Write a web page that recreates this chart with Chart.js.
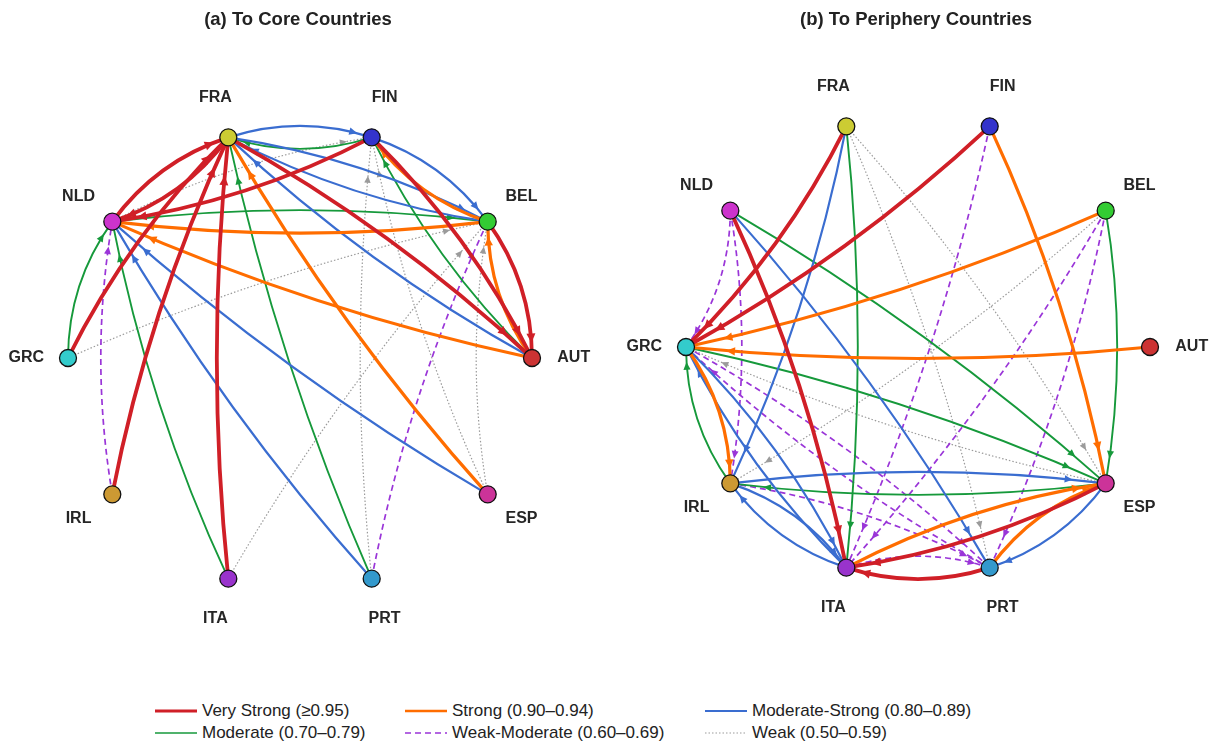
<!DOCTYPE html>
<html>
<head>
<meta charset="utf-8">
<script src="https://cdn.jsdelivr.net/npm/chart.js@4.4.0/dist/chart.umd.min.js"></script>
<style>
  html, body { margin: 0; padding: 0; background: #fff; }
  #wrap { position: relative; width: 1218px; height: 747px; overflow: hidden;
          font-family: "Liberation Sans", Arial, sans-serif; }
  #wrap canvas { position: absolute; top: 0; }
  .item { position: absolute; display: flex; align-items: center; height: 20px;
          font-size: 17px; color: #222; white-space: nowrap; }
  .item svg { margin-right: 5px; }
</style>
</head>
<body>
<div id="wrap">
  <canvas id="core" width="609" height="690" style="left:0"></canvas>
  <canvas id="peri" width="609" height="690" style="left:609px"></canvas>
  <div id="legend"></div>
</div>
<script>
// Countries in clockwise order around the circle, starting just left of the top
const countries  = ['FRA', 'FIN', 'BEL', 'AUT', 'ESP', 'PRT', 'ITA', 'IRL', 'GRC', 'NLD'];
const nodeColors = ['#cccc33', '#3333cc', '#33cc33', '#cc3333', '#cc3399',
                    '#3399cc', '#9933cc', '#cc9933', '#33cccc', '#cc33cc'];

// Connection-strength classes
const levelKeys   = ['vs', 's', 'ms', 'm', 'wm', 'w'];
const levelLabels = ['Very Strong (≥0.95)', 'Strong (0.90–0.94)', 'Moderate-Strong (0.80–0.89)',
                     'Moderate (0.70–0.79)', 'Weak-Moderate (0.60–0.69)', 'Weak (0.50–0.59)'];

// Directed links: [source, target, strength class]
const coreLinks = [
  ['GRC', 'BEL', 'w'], ['ITA', 'BEL', 'w'], ['NLD', 'FIN', 'w'], ['PRT', 'FIN', 'w'],
  ['ESP', 'FIN', 'w'], ['ESP', 'BEL', 'w'],
  ['IRL', 'NLD', 'wm'], ['PRT', 'BEL', 'wm'],
  ['PRT', 'FRA', 'm'], ['FIN', 'FRA', 'm'], ['NLD', 'BEL', 'm'], ['AUT', 'FIN', 'm'],
  ['ITA', 'NLD', 'm'], ['GRC', 'NLD', 'm'],
  ['FRA', 'FIN', 'ms'], ['FIN', 'BEL', 'ms'], ['FRA', 'BEL', 'ms'], ['BEL', 'FRA', 'ms'],
  ['AUT', 'FRA', 'ms'], ['ESP', 'NLD', 'ms'], ['PRT', 'NLD', 'ms'],
  ['ESP', 'FRA', 's'], ['BEL', 'FIN', 's'], ['AUT', 'BEL', 's'], ['BEL', 'NLD', 's'], ['AUT', 'NLD', 's'],
  ['NLD', 'FRA', 'vs'], ['FRA', 'NLD', 'vs'], ['GRC', 'FRA', 'vs'], ['IRL', 'FRA', 'vs'],
  ['ITA', 'FRA', 'vs'], ['FIN', 'NLD', 'vs'], ['FRA', 'AUT', 'vs'], ['FIN', 'AUT', 'vs'],
  ['BEL', 'AUT', 'vs']
];

const periLinks = [
  ['FRA', 'PRT', 'w'], ['FRA', 'ESP', 'w'], ['BEL', 'IRL', 'w'], ['ESP', 'GRC', 'w'],
  ['NLD', 'GRC', 'wm'], ['NLD', 'IRL', 'wm'], ['FIN', 'ITA', 'wm'], ['BEL', 'ITA', 'wm'],
  ['BEL', 'PRT', 'wm'], ['GRC', 'PRT', 'wm'], ['PRT', 'GRC', 'wm'], ['ITA', 'PRT', 'wm'],
  ['IRL', 'PRT', 'wm'],
  ['FRA', 'ITA', 'm'], ['BEL', 'ESP', 'm'], ['NLD', 'ESP', 'm'], ['GRC', 'ESP', 'm'],
  ['IRL', 'GRC', 'm'], ['ESP', 'IRL', 'm'],
  ['FRA', 'IRL', 'ms'], ['NLD', 'PRT', 'ms'], ['GRC', 'ITA', 'ms'], ['ITA', 'GRC', 'ms'],
  ['IRL', 'ITA', 'ms'], ['ITA', 'IRL', 'ms'], ['IRL', 'ESP', 'ms'], ['ESP', 'PRT', 'ms'],
  ['BEL', 'GRC', 's'], ['AUT', 'GRC', 's'], ['FIN', 'ESP', 's'], ['GRC', 'IRL', 's'],
  ['ITA', 'ESP', 's'], ['PRT', 'ESP', 's'],
  ['FRA', 'GRC', 'vs'], ['FIN', 'GRC', 'vs'], ['NLD', 'ITA', 'vs'], ['ESP', 'ITA', 'vs'],
  ['PRT', 'ITA', 'vs']
];

// Line style for each strength class
const linkStyle = {
  vs: { color: '#d01f27', width: 3.8, dash: [] },
  s:  { color: '#ff6d00', width: 3.2, dash: [] },
  ms: { color: '#3a6dd0', width: 2.2, dash: [] },
  m:  { color: '#16993b', width: 1.9, dash: [] },
  wm: { color: '#9a35d8', width: 1.7, dash: [6, 4] },
  w:  { color: '#9b9b9b', width: 1.2, dash: [1.5, 2] }
};
const drawOrder = ['w', 'wm', 'm', 'ms', 's', 'vs'];

// Node layout on the unit circle (data units), 36 degrees apart
const nodePoints = countries.map((c, i) => {
  const a = (-18 + 36 * i) * Math.PI / 180;
  return { x: Math.sin(a), y: Math.cos(a) };
});
const LABEL_R = 1.18;
const UNIT = 232;      // pixels per data unit
const BEND = 23;       // control-point offset of each curved link (px)

function drawArrowLink(ctx, p0, p1, st) {
  const dx = p1[0] - p0[0], dy = p1[1] - p0[1];
  const L = Math.hypot(dx, dy);
  const cx = (p0[0] + p1[0]) / 2 + BEND * dy / L;
  const cy = (p0[1] + p1[1]) / 2 - BEND * dx / L;
  ctx.save();
  ctx.strokeStyle = st.color;
  ctx.lineWidth = st.width;
  ctx.setLineDash(st.dash);
  ctx.lineCap = st.dash.length ? 'butt' : 'round';
  ctx.beginPath();
  ctx.moveTo(p0[0], p0[1]);
  ctx.quadraticCurveTo(cx, cy, p1[0], p1[1]);
  ctx.stroke();
  // arrow head a little before the target node
  const t = 1 - (0.08 * L + 3) / L;
  const u = 1 - t;
  const bx = u * u * p0[0] + 2 * u * t * cx + t * t * p1[0];
  const by = u * u * p0[1] + 2 * u * t * cy + t * t * p1[1];
  let tx = 2 * u * (cx - p0[0]) + 2 * t * (p1[0] - cx);
  let ty = 2 * u * (cy - p0[1]) + 2 * t * (p1[1] - cy);
  const tl = Math.hypot(tx, ty); tx /= tl; ty /= tl;
  const len = 6 + st.width * 0.9, hw = 2.6 + st.width * 0.5;
  ctx.setLineDash([]);
  ctx.fillStyle = st.color;
  ctx.beginPath();
  ctx.moveTo(bx, by);
  ctx.lineTo(bx - tx * len - ty * hw, by - ty * len + tx * hw);
  ctx.lineTo(bx - tx * len + ty * hw, by - ty * len - tx * hw);
  ctx.closePath();
  ctx.fill();
  ctx.restore();
}

const networkPlugin = {
  id: 'network',
  beforeDatasetsDraw(chart, args, opts) {
    const { ctx } = chart;
    const xs = chart.scales.x, ys = chart.scales.y;
    const px = name => {
      const p = nodePoints[countries.indexOf(name)];
      return [xs.getPixelForValue(p.x), ys.getPixelForValue(p.y)];
    };
    drawOrder.forEach(lvl => {
      opts.links.filter(l => l[2] === lvl)
        .forEach(([s, t]) => drawArrowLink(ctx, px(s), px(t), linkStyle[lvl]));
    });
  },
  afterDatasetsDraw(chart, args, opts) {
    const { ctx } = chart;
    const xs = chart.scales.x, ys = chart.scales.y;
    ctx.save();
    ctx.fillStyle = '#262626';
    ctx.textAlign = 'center';
    ctx.textBaseline = 'middle';
    ctx.font = 'bold 16px "Liberation Sans", Arial, sans-serif';
    nodePoints.forEach((p, i) => {
      ctx.fillText(countries[i], xs.getPixelForValue(p.x * LABEL_R), ys.getPixelForValue(p.y * LABEL_R));
    });
    ctx.font = 'bold 18.5px "Liberation Sans", Arial, sans-serif';
    ctx.fillStyle = '#222';
    ctx.fillText(opts.title, xs.getPixelForValue(0) - 2, 20);
    ctx.restore();
  }
};

function makePanel(id, links, title, cxPx, cyPx) {
  const canvas = document.getElementById(id);
  const W = canvas.width, H = canvas.height;
  return new Chart(canvas, {
    type: 'scatter',
    data: {
      datasets: [{
        data: nodePoints,
        pointRadius: 8.5,
        pointHoverRadius: 8.5,
        pointBackgroundColor: nodeColors,
        pointBorderColor: '#111',
        pointBorderWidth: 1.3
      }]
    },
    options: {
      responsive: false,
      animation: false,
      events: [],
      layout: { padding: 0, autoPadding: false },
      scales: {
        x: { type: 'linear', display: false, min: -cxPx / UNIT, max: (W - cxPx) / UNIT },
        y: { type: 'linear', display: false, min: -(H - cyPx) / UNIT, max: cyPx / UNIT }
      },
      plugins: {
        legend: { display: false },
        tooltip: { enabled: false },
        network: { links, title }
      }
    },
    plugins: [networkPlugin]
  });
}

makePanel('core', coreLinks, '(a) To Core Countries', 300, 358);
makePanel('peri', periLinks, '(b) To Periphery Countries', 309, 347);

// Legend: three columns, two rows
const legendCols = [155, 405, 705];
const legendRows = [711, 733];
const legendEl = document.getElementById('legend');
levelKeys.forEach((k, i) => {
  const st = linkStyle[k];
  const item = document.createElement('div');
  item.className = 'item';
  item.style.left = legendCols[i % 3] + 'px';
  item.style.top = (legendRows[Math.floor(i / 3)] - 10) + 'px';
  const w = k === 'w' ? 1.2 : (k === 'wm' ? 1.7 : st.width * 0.8);
  item.innerHTML =
    '<svg width="42" height="10"><line x1="0" y1="5" x2="42" y2="5" stroke="' + st.color +
    '" stroke-width="' + w + '" stroke-dasharray="' + (st.dash.length ? st.dash.join(',') : 'none') +
    '"/></svg><span>' + levelLabels[i] + '</span>';
  legendEl.appendChild(item);
});
</script>
</body>
</html>
